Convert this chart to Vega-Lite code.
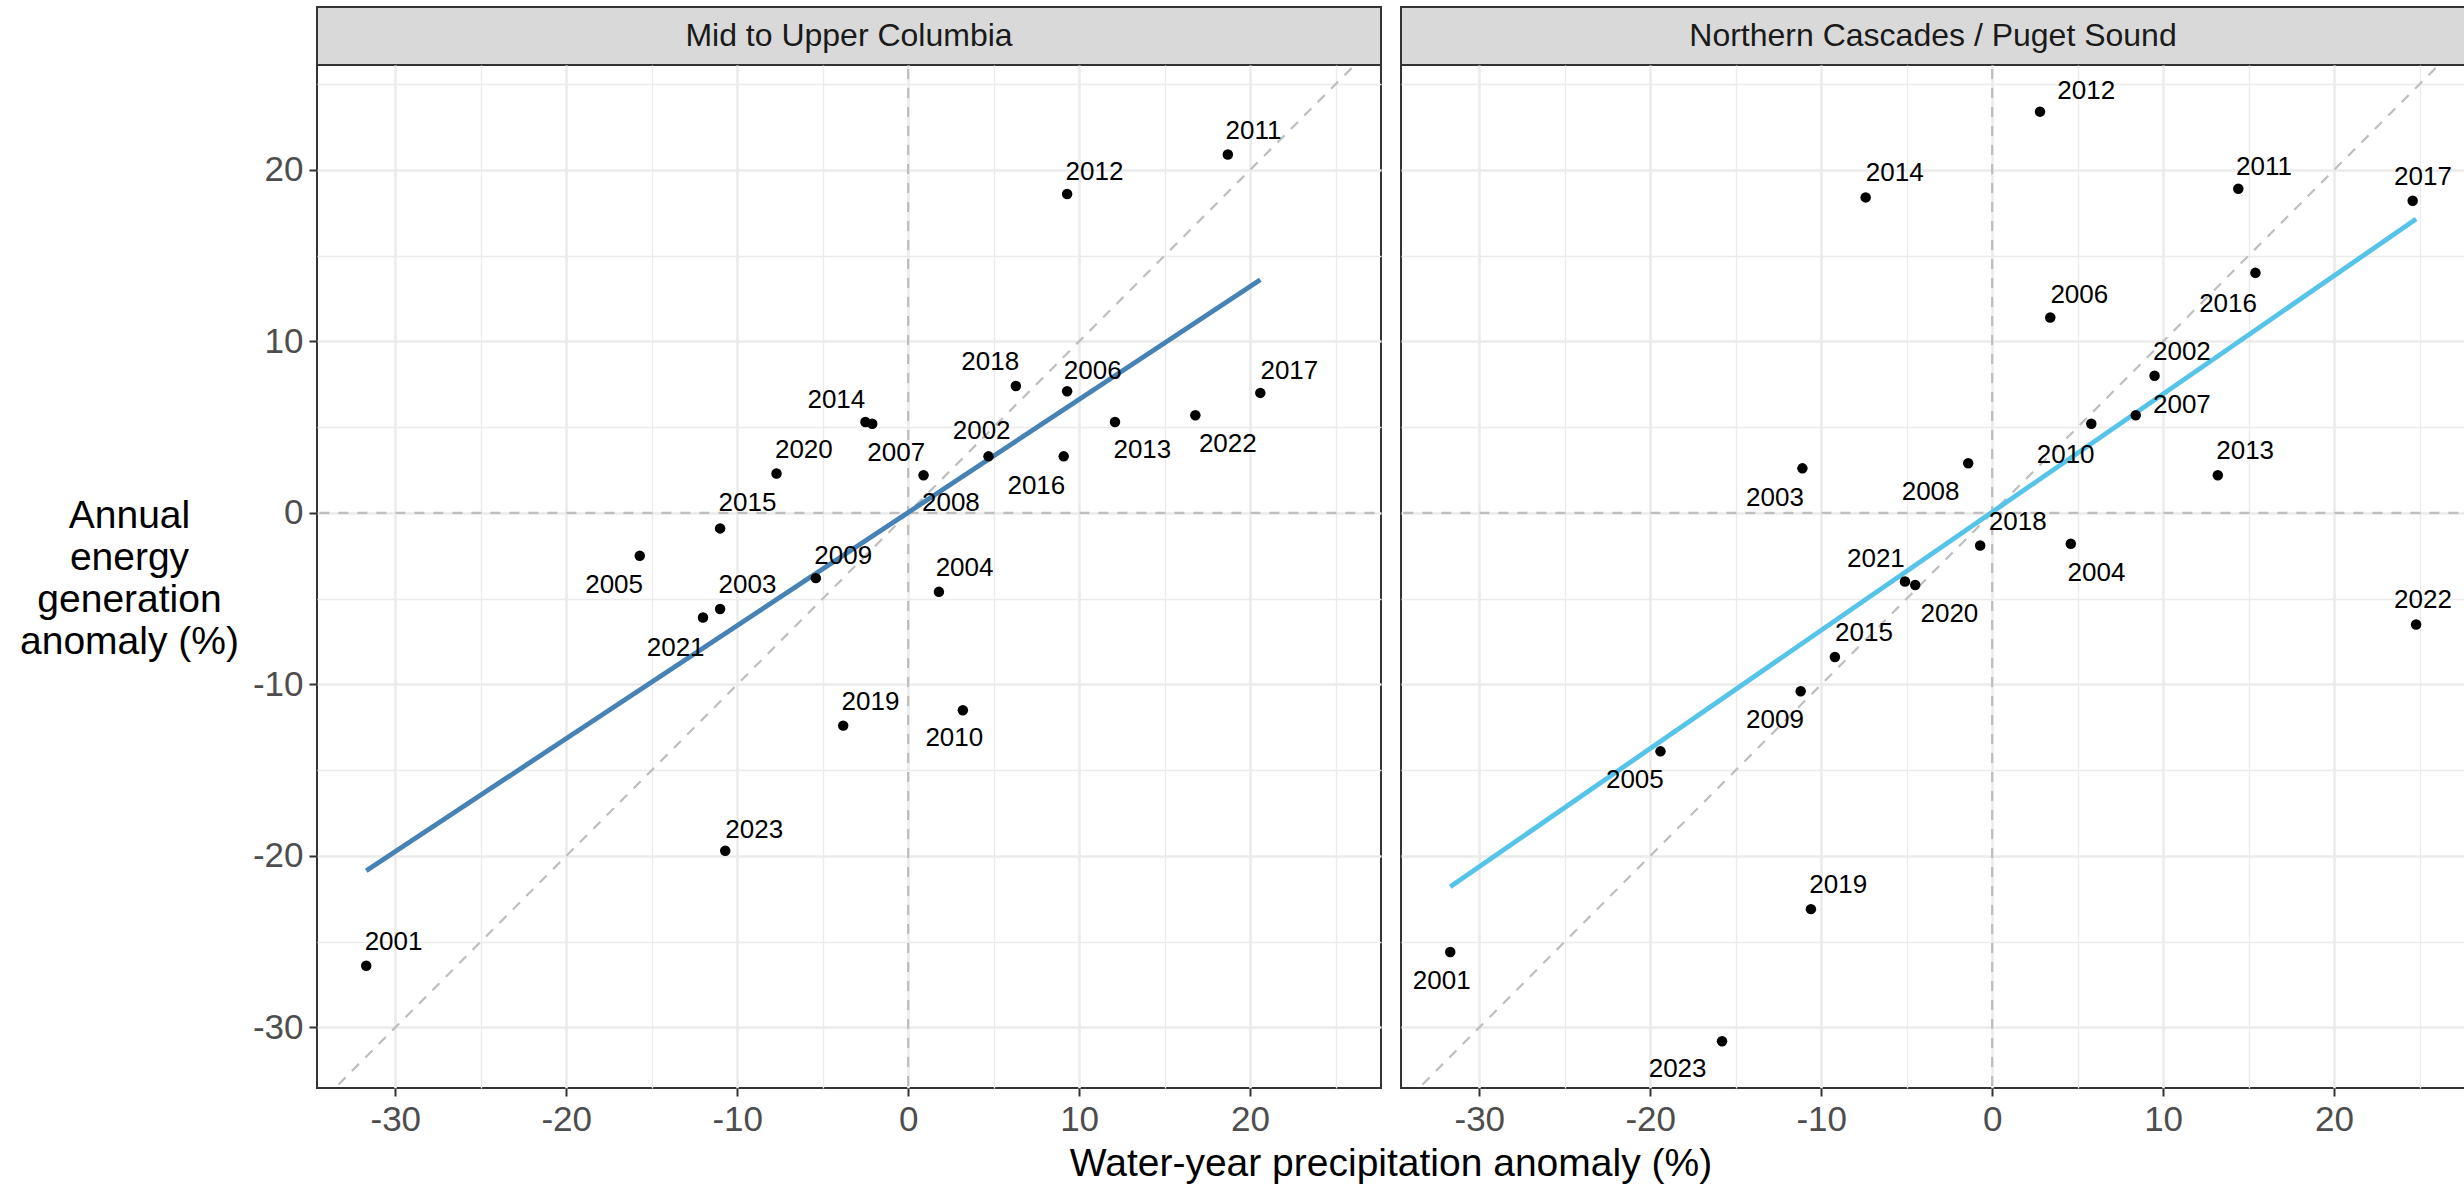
{
  "$schema": "https://vega.github.io/schema/vega-lite/v6.json",
  "background": "white",
  "padding": {"left": 18, "top": 6, "right": 0, "bottom": 0},
  "config": {
    "font": "Liberation Sans",
    "view": {"stroke": "#333333", "strokeWidth": 2}
  },
  "datasets": {
    "hydro": [
      {"panel": "Mid to Upper Columbia", "year": 2001, "precip": -31.7, "energy": -26.4, "lx": -30.1, "ly": -25.0},
      {"panel": "Mid to Upper Columbia", "year": 2002, "precip": 4.7, "energy": 3.3, "lx": 4.3, "ly": 4.8},
      {"panel": "Mid to Upper Columbia", "year": 2003, "precip": -11.0, "energy": -5.6, "lx": -9.4, "ly": -4.2},
      {"panel": "Mid to Upper Columbia", "year": 2004, "precip": 1.8, "energy": -4.6, "lx": 3.3, "ly": -3.2},
      {"panel": "Mid to Upper Columbia", "year": 2005, "precip": -15.7, "energy": -2.5, "lx": -17.2, "ly": -4.2},
      {"panel": "Mid to Upper Columbia", "year": 2006, "precip": 9.3, "energy": 7.1, "lx": 10.8, "ly": 8.3},
      {"panel": "Mid to Upper Columbia", "year": 2007, "precip": -2.1, "energy": 5.2, "lx": -0.7, "ly": 3.5},
      {"panel": "Mid to Upper Columbia", "year": 2008, "precip": 0.9, "energy": 2.2, "lx": 2.5, "ly": 0.6},
      {"panel": "Mid to Upper Columbia", "year": 2009, "precip": -5.4, "energy": -3.8, "lx": -3.8, "ly": -2.5},
      {"panel": "Mid to Upper Columbia", "year": 2010, "precip": 3.2, "energy": -11.5, "lx": 2.7, "ly": -13.1},
      {"panel": "Mid to Upper Columbia", "year": 2011, "precip": 18.7, "energy": 20.9, "lx": 20.2, "ly": 22.3},
      {"panel": "Mid to Upper Columbia", "year": 2012, "precip": 9.3, "energy": 18.6, "lx": 10.9, "ly": 19.9},
      {"panel": "Mid to Upper Columbia", "year": 2013, "precip": 12.1, "energy": 5.3, "lx": 13.7, "ly": 3.7},
      {"panel": "Mid to Upper Columbia", "year": 2014, "precip": -2.5, "energy": 5.3, "lx": -4.2, "ly": 6.6},
      {"panel": "Mid to Upper Columbia", "year": 2015, "precip": -11.0, "energy": -0.9, "lx": -9.4, "ly": 0.6},
      {"panel": "Mid to Upper Columbia", "year": 2016, "precip": 9.1, "energy": 3.3, "lx": 7.5, "ly": 1.6},
      {"panel": "Mid to Upper Columbia", "year": 2017, "precip": 20.6, "energy": 7.0, "lx": 22.3, "ly": 8.3},
      {"panel": "Mid to Upper Columbia", "year": 2018, "precip": 6.3, "energy": 7.4, "lx": 4.8, "ly": 8.8},
      {"panel": "Mid to Upper Columbia", "year": 2019, "precip": -3.8, "energy": -12.4, "lx": -2.2, "ly": -11.0},
      {"panel": "Mid to Upper Columbia", "year": 2020, "precip": -7.7, "energy": 2.3, "lx": -6.1, "ly": 3.7},
      {"panel": "Mid to Upper Columbia", "year": 2021, "precip": -12.0, "energy": -6.1, "lx": -13.6, "ly": -7.9},
      {"panel": "Mid to Upper Columbia", "year": 2022, "precip": 16.8, "energy": 5.7, "lx": 18.7, "ly": 4.0},
      {"panel": "Mid to Upper Columbia", "year": 2023, "precip": -10.7, "energy": -19.7, "lx": -9.0, "ly": -18.5},
      {"panel": "Northern Cascades / Puget Sound", "year": 2001, "precip": -31.7, "energy": -25.6, "lx": -32.2, "ly": -27.3},
      {"panel": "Northern Cascades / Puget Sound", "year": 2002, "precip": 9.5, "energy": 8.0, "lx": 11.1, "ly": 9.4},
      {"panel": "Northern Cascades / Puget Sound", "year": 2003, "precip": -11.1, "energy": 2.6, "lx": -12.7, "ly": 0.9},
      {"panel": "Northern Cascades / Puget Sound", "year": 2004, "precip": 4.6, "energy": -1.8, "lx": 6.1, "ly": -3.5},
      {"panel": "Northern Cascades / Puget Sound", "year": 2005, "precip": -19.4, "energy": -13.9, "lx": -20.9, "ly": -15.6},
      {"panel": "Northern Cascades / Puget Sound", "year": 2006, "precip": 3.4, "energy": 11.4, "lx": 5.1, "ly": 12.7},
      {"panel": "Northern Cascades / Puget Sound", "year": 2007, "precip": 8.4, "energy": 5.7, "lx": 11.1, "ly": 6.3},
      {"panel": "Northern Cascades / Puget Sound", "year": 2008, "precip": -1.4, "energy": 2.9, "lx": -3.6, "ly": 1.2},
      {"panel": "Northern Cascades / Puget Sound", "year": 2009, "precip": -11.2, "energy": -10.4, "lx": -12.7, "ly": -12.1},
      {"panel": "Northern Cascades / Puget Sound", "year": 2010, "precip": 5.8, "energy": 5.2, "lx": 4.3, "ly": 3.4},
      {"panel": "Northern Cascades / Puget Sound", "year": 2011, "precip": 14.4, "energy": 18.9, "lx": 15.9, "ly": 20.2},
      {"panel": "Northern Cascades / Puget Sound", "year": 2012, "precip": 2.8, "energy": 23.4, "lx": 5.5, "ly": 24.6},
      {"panel": "Northern Cascades / Puget Sound", "year": 2013, "precip": 13.2, "energy": 2.2, "lx": 14.8, "ly": 3.6},
      {"panel": "Northern Cascades / Puget Sound", "year": 2014, "precip": -7.4, "energy": 18.4, "lx": -5.7, "ly": 19.8},
      {"panel": "Northern Cascades / Puget Sound", "year": 2015, "precip": -9.2, "energy": -8.4, "lx": -7.5, "ly": -7.0},
      {"panel": "Northern Cascades / Puget Sound", "year": 2016, "precip": 15.4, "energy": 14.0, "lx": 13.8, "ly": 12.2},
      {"panel": "Northern Cascades / Puget Sound", "year": 2017, "precip": 24.6, "energy": 18.2, "lx": 25.2, "ly": 19.6},
      {"panel": "Northern Cascades / Puget Sound", "year": 2018, "precip": -0.7, "energy": -1.9, "lx": 1.5, "ly": -0.5},
      {"panel": "Northern Cascades / Puget Sound", "year": 2019, "precip": -10.6, "energy": -23.1, "lx": -9.0, "ly": -21.7},
      {"panel": "Northern Cascades / Puget Sound", "year": 2020, "precip": -4.5, "energy": -4.2, "lx": -2.5, "ly": -5.9},
      {"panel": "Northern Cascades / Puget Sound", "year": 2021, "precip": -5.1, "energy": -4.0, "lx": -6.8, "ly": -2.7},
      {"panel": "Northern Cascades / Puget Sound", "year": 2022, "precip": 24.8, "energy": -6.5, "lx": 25.2, "ly": -5.1},
      {"panel": "Northern Cascades / Puget Sound", "year": 2023, "precip": -15.8, "energy": -30.8, "lx": -18.4, "ly": -32.4}
    ],
    "guides": [
      {"guide": "zero precipitation", "precip": 0, "precip_end": 0, "energy": -60, "energy_end": 60},
      {"guide": "zero energy", "precip": -60, "precip_end": 60, "energy": 0, "energy_end": 0},
      {"guide": "one to one", "precip": -60, "precip_end": 60, "energy": -60, "energy_end": 60}
    ]
  },
  "data": {"name": "hydro"},
  "columns": 2,
  "spacing": {"row": 0, "column": 20},
  "bounds": "flush",
  "concat": [
    {
      "width": 1064,
      "height": 58,
      "view": {"fill": "#D9D9D9", "stroke": "#333333", "strokeWidth": 2},
      "transform": [
        {"filter": "datum.panel === 'Mid to Upper Columbia'"},
        {"aggregate": [{"op": "count", "as": "n"}], "groupby": ["panel"]}
      ],
      "mark": {"type": "text", "fontSize": 32, "color": "#1A1A1A"},
      "encoding": {"text": {"field": "panel", "type": "nominal"}}
    },
    {
      "width": 1064,
      "height": 58,
      "view": {"fill": "#D9D9D9", "stroke": "#333333", "strokeWidth": 2},
      "transform": [
        {"filter": "datum.panel === 'Northern Cascades / Puget Sound'"},
        {"aggregate": [{"op": "count", "as": "n"}], "groupby": ["panel"]}
      ],
      "mark": {"type": "text", "fontSize": 32, "color": "#1A1A1A"},
      "encoding": {"text": {"field": "panel", "type": "nominal"}}
    },
    {
      "width": 1064,
      "height": 1023,
      "transform": [{"filter": "datum.panel === 'Mid to Upper Columbia'"}],
      "layer": [
        {
          "data": {"name": "guides"},
          "mark": {"type": "rule", "color": "#BEBEBE", "strokeWidth": 2.2, "strokeDash": [10, 9], "clip": true},
          "encoding": {
            "x": {
              "field": "precip", "type": "quantitative",
              "scale": {"domain": [-34.58, 27.66], "nice": false, "zero": false},
              "axis": {
                "values": [-30, -25, -20, -15, -10, -5, 0, 5, 10, 15, 20, 25],
                "labelExpr": "datum.value % 10 === 0 ? '' + datum.value : ''",
                "grid": true,
                "gridColor": "#EBEBEB",
                "gridWidth": {"condition": {"test": "datum.value % 10 === 0", "value": 2.6}, "value": 1.3},
                "tickOpacity": {"condition": {"test": "datum.value % 10 === 0", "value": 1}, "value": 0},
                "domain": false,
                "tickColor": "#333333",
                "tickWidth": 2,
                "tickSize": 8,
                "labelFontSize": 35,
                "labelColor": "#4D4D4D",
                "labelPadding": 6,
                "labelFlush": false,
                "labelOverlap": false,
                "title": "Water-year precipitation anomaly (%)",
                "titleFontSize": 39,
                "titleFontWeight": "normal",
                "titleColor": "#000000",
                "titleX": 1073.5,
                "titleY": 87,
                "titleAlign": "center",
                "titleBaseline": "alphabetic"
              }
            },
            "x2": {"field": "precip_end"},
            "y": {
              "field": "energy", "type": "quantitative",
              "scale": {"domain": [-33.53, 26.12], "nice": false, "zero": false},
              "axis": {
                "values": [-30, -25, -20, -15, -10, -5, 0, 5, 10, 15, 20, 25],
                "labelExpr": "datum.value % 10 === 0 ? '' + datum.value : ''",
                "grid": true,
                "gridColor": "#EBEBEB",
                "gridWidth": {"condition": {"test": "datum.value % 10 === 0", "value": 2.6}, "value": 1.3},
                "tickOpacity": {"condition": {"test": "datum.value % 10 === 0", "value": 1}, "value": 0},
                "domain": false,
                "tickColor": "#333333",
                "tickWidth": 2,
                "tickSize": 8,
                "labelFontSize": 35,
                "labelColor": "#4D4D4D",
                "labelPadding": 6,
                "labelFlush": false,
                "labelOverlap": false,
                "title": ["Annual", "energy", "generation", "anomaly (%)"],
                "titleFontSize": 39,
                "titleFontWeight": "normal",
                "titleColor": "#000000",
                "titleAngle": 0,
                "titleAlign": "center",
                "titleBaseline": "middle",
                "titleLineHeight": 42,
                "titleX": -188,
                "titleY": 450
              }
            },
            "y2": {"field": "energy_end"}
          }
        },
        {
          "transform": [{"regression": "energy", "on": "precip"}],
          "mark": {"type": "line", "color": "#4682B4", "strokeWidth": 4.8},
          "encoding": {
            "x": {"field": "precip", "type": "quantitative", "scale": {"domain": [-34.58, 27.66], "nice": false, "zero": false}},
            "y": {"field": "energy", "type": "quantitative", "scale": {"domain": [-33.53, 26.12], "nice": false, "zero": false}}
          }
        },
        {
          "mark": {"type": "circle", "size": 110, "color": "#000000", "opacity": 1},
          "encoding": {
            "x": {"field": "precip", "type": "quantitative", "scale": {"domain": [-34.58, 27.66], "nice": false, "zero": false}},
            "y": {"field": "energy", "type": "quantitative", "scale": {"domain": [-33.53, 26.12], "nice": false, "zero": false}}
          }
        },
        {
          "mark": {"type": "text", "fontSize": 26, "color": "#000000"},
          "encoding": {
            "x": {"field": "lx", "type": "quantitative", "scale": {"domain": [-34.58, 27.66], "nice": false, "zero": false}},
            "y": {"field": "ly", "type": "quantitative", "scale": {"domain": [-33.53, 26.12], "nice": false, "zero": false}},
            "text": {"field": "year", "type": "nominal"}
          }
        }
      ]
    },
    {
      "width": 1064,
      "height": 1023,
      "transform": [{"filter": "datum.panel === 'Northern Cascades / Puget Sound'"}],
      "layer": [
        {
          "data": {"name": "guides"},
          "mark": {"type": "rule", "color": "#BEBEBE", "strokeWidth": 2.2, "strokeDash": [10, 9], "clip": true},
          "encoding": {
            "x": {
              "field": "precip", "type": "quantitative",
              "scale": {"domain": [-34.58, 27.66], "nice": false, "zero": false},
              "axis": {
                "values": [-30, -25, -20, -15, -10, -5, 0, 5, 10, 15, 20, 25],
                "labelExpr": "datum.value % 10 === 0 ? '' + datum.value : ''",
                "grid": true,
                "gridColor": "#EBEBEB",
                "gridWidth": {"condition": {"test": "datum.value % 10 === 0", "value": 2.6}, "value": 1.3},
                "tickOpacity": {"condition": {"test": "datum.value % 10 === 0", "value": 1}, "value": 0},
                "domain": false,
                "tickColor": "#333333",
                "tickWidth": 2,
                "tickSize": 8,
                "labelFontSize": 35,
                "labelColor": "#4D4D4D",
                "labelPadding": 6,
                "labelFlush": false,
                "labelOverlap": false,
                "title": null
              }
            },
            "x2": {"field": "precip_end"},
            "y": {
              "field": "energy", "type": "quantitative",
              "scale": {"domain": [-33.53, 26.12], "nice": false, "zero": false},
              "axis": {
                "values": [-30, -25, -20, -15, -10, -5, 0, 5, 10, 15, 20, 25],
                "grid": true,
                "gridColor": "#EBEBEB",
                "gridWidth": {"condition": {"test": "datum.value % 10 === 0", "value": 2.6}, "value": 1.3},
                "domain": false,
                "ticks": false,
                "labels": false,
                "title": null
              }
            },
            "y2": {"field": "energy_end"}
          }
        },
        {
          "transform": [{"regression": "energy", "on": "precip"}],
          "mark": {"type": "line", "color": "#56C4E8", "strokeWidth": 4.8},
          "encoding": {
            "x": {"field": "precip", "type": "quantitative", "scale": {"domain": [-34.58, 27.66], "nice": false, "zero": false}},
            "y": {"field": "energy", "type": "quantitative", "scale": {"domain": [-33.53, 26.12], "nice": false, "zero": false}}
          }
        },
        {
          "mark": {"type": "circle", "size": 110, "color": "#000000", "opacity": 1},
          "encoding": {
            "x": {"field": "precip", "type": "quantitative", "scale": {"domain": [-34.58, 27.66], "nice": false, "zero": false}},
            "y": {"field": "energy", "type": "quantitative", "scale": {"domain": [-33.53, 26.12], "nice": false, "zero": false}}
          }
        },
        {
          "mark": {"type": "text", "fontSize": 26, "color": "#000000"},
          "encoding": {
            "x": {"field": "lx", "type": "quantitative", "scale": {"domain": [-34.58, 27.66], "nice": false, "zero": false}},
            "y": {"field": "ly", "type": "quantitative", "scale": {"domain": [-33.53, 26.12], "nice": false, "zero": false}},
            "text": {"field": "year", "type": "nominal"}
          }
        }
      ]
    }
  ]
}
